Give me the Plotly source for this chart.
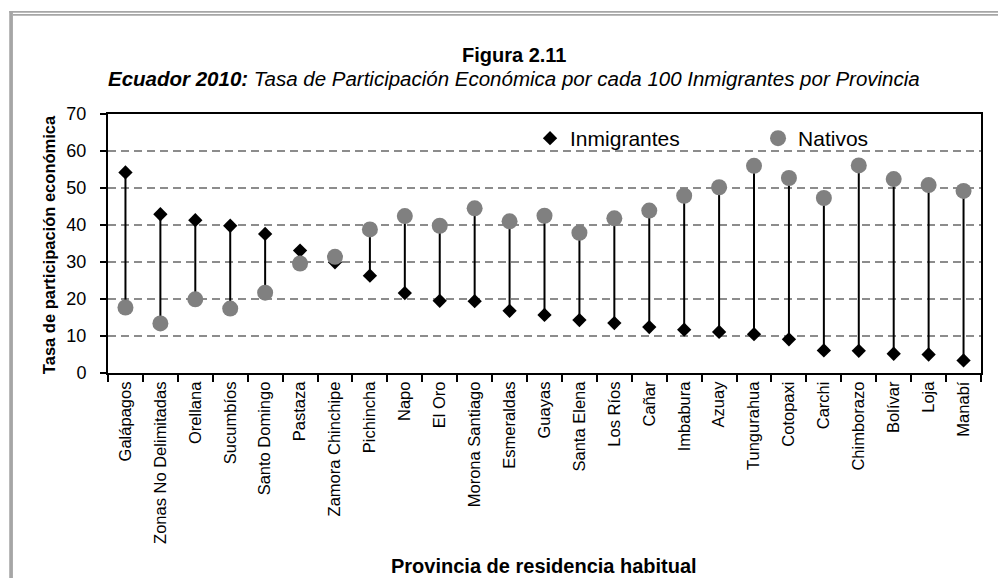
import plotly.graph_objects as go

provincias = ["Galápagos", "Zonas No Delimitadas", "Orellana", "Sucumbíos", "Santo Domingo",
              "Pastaza", "Zamora Chinchipe", "Pichincha", "Napo", "El Oro", "Morona Santiago",
              "Esmeraldas", "Guayas", "Santa Elena", "Los Ríos", "Cañar", "Imbabura", "Azuay",
              "Tungurahua", "Cotopaxi", "Carchi", "Chimborazo", "Bolívar", "Loja", "Manabí"]
inmigrantes = [54.2, 42.9, 41.3, 39.8, 37.6, 33.1, 29.9, 26.3, 21.6, 19.5, 19.4, 16.8, 15.7,
               14.3, 13.5, 12.4, 11.7, 11.1, 10.5, 9.1, 6.1, 6.0, 5.2, 5.0, 3.4]
nativos = [17.7, 13.4, 19.9, 17.4, 21.7, 29.6, 31.4, 38.8, 42.4, 39.8, 44.5, 41.0, 42.5,
           37.9, 41.8, 43.9, 47.9, 50.2, 56.0, 52.7, 47.3, 56.1, 52.4, 50.8, 49.2]
y_ticks = [0, 10, 20, 30, 40, 50, 60, 70]

FONT = "Liberation Sans, Arial, sans-serif"
W, H = 998, 578
L, R, T, B = 108, 983, 114, 373


def px(xp):
    return (xp - L) / (R - L)


def py(yp):
    return (B - yp) / (B - T)


# connecting lines
lx, ly = [], []
for c, a, b in zip(provincias, inmigrantes, nativos):
    lx += [c, c, None]
    ly += [a, b, None]

fig = go.Figure()
fig.add_trace(go.Scatter(x=lx, y=ly, mode="lines", line=dict(color="black", width=2),
                         showlegend=False, hoverinfo="skip"))
fig.add_trace(go.Scatter(x=provincias, y=inmigrantes, mode="markers", name="Inmigrantes",
                         marker=dict(symbol="diamond", size=11, color="black")))
fig.add_trace(go.Scatter(x=provincias, y=nativos, mode="markers", name="Nativos",
                         marker=dict(symbol="circle", size=16, color="#808080")))

fig.update_layout(
    width=W, height=H,
    margin=dict(l=L, r=W - R, t=T, b=H - B),
    paper_bgcolor="white", plot_bgcolor="white",
    font=dict(family=FONT, color="black"),
    legend=dict(orientation="h", x=px(531), y=py(118), xanchor="left", yanchor="top",
                font=dict(size=21, family=FONT), entrywidth=183, entrywidthmode="pixels",
                bgcolor="rgba(0,0,0,0)", itemwidth=30),
    xaxis=dict(type="category", range=[-0.5, len(provincias) - 0.5],
               tickangle=-90, tickfont=dict(size=16.5, family=FONT),
               showline=True, linecolor="black", linewidth=2, mirror=True,
               ticks="outside", tickson="boundaries", ticklen=7, tickwidth=1.5,
               tickcolor="black", showgrid=False),
    yaxis=dict(range=[0, 70], tickvals=y_ticks, tickfont=dict(size=18, family=FONT),
               showline=True, linecolor="black", linewidth=2, mirror=True,
               ticks="outside", ticklen=6, tickwidth=1.5, tickcolor="black",
               ticklabelstandoff=10,
               showgrid=True, gridcolor="#8c8c8c", gridwidth=2, griddash="8px,5px",
               zeroline=False),
    shapes=[
        dict(type="rect", xref="paper", yref="paper", x0=px(9), x1=px(1005),
             y0=py(12.8), y1=py(11), fillcolor="#A6A6A6", line=dict(width=0), layer="above"),
        dict(type="rect", xref="paper", yref="paper", x0=px(12.7), x1=px(1005),
             y0=py(15.8), y1=py(14), fillcolor="#A6A6A6", line=dict(width=0), layer="above"),
        dict(type="rect", xref="paper", yref="paper", x0=px(9), x1=px(12.7),
             y0=py(590), y1=py(11), fillcolor="#A6A6A6", line=dict(width=0), layer="above"),
    ],
    annotations=[
        dict(text="<b>Figura 2.11</b>", xref="paper", yref="paper", x=px(515), y=py(55),
             xanchor="center", yanchor="middle", showarrow=False,
             font=dict(size=20, family=FONT)),
        dict(text="<b><i>Ecuador 2010:</i></b><i> Tasa de Participación Económica por cada 100 Inmigrantes por Provincia</i>",
             xref="paper", yref="paper", x=px(515), y=py(78),
             xanchor="center", yanchor="middle", showarrow=False,
             font=dict(size=20.5, family=FONT)),
        dict(text="<b>Tasa de participación económica</b>", xref="paper", yref="paper",
             x=px(49), y=py(245), textangle=-90, xanchor="center", yanchor="middle",
             showarrow=False, font=dict(size=16.5, family=FONT)),
        dict(text="<b>Provincia de residencia habitual</b>", xref="paper", yref="paper",
             x=px(545), y=py(566), xanchor="center", yanchor="middle",
             showarrow=False, font=dict(size=20, family=FONT)),
    ],
)

fig.write_html("out.html", config={"displayModeBar": False},
               post_script="document.body.style.margin='0';document.body.style.overflow='hidden';")
